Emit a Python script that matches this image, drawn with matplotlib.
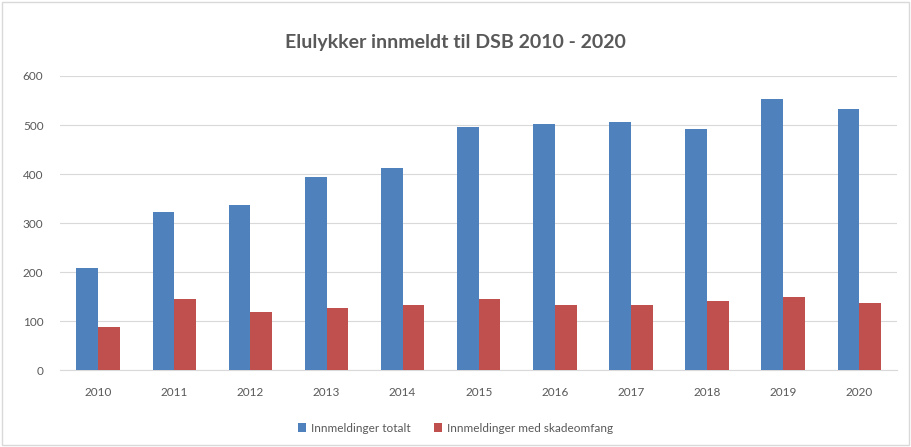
import numpy as np
import matplotlib
matplotlib.use("Agg")
import matplotlib.pyplot as plt
from matplotlib.patches import Rectangle

plt.rcParams['font.family'] = ['Lato', 'DejaVu Sans']

years = ['2010', '2011', '2012', '2013', '2014', '2015', '2016', '2017', '2018', '2019', '2020']
totalt = [208, 322, 337, 394, 412, 495, 503, 507, 492, 554, 532]
skade = [87, 146, 119, 126, 133, 146, 133, 133, 141, 150, 137]

blue = '#4F81BD'
red = '#C0504D'
grey = '#595959'

fig = plt.figure(figsize=(9.11, 4.47), dpi=100)
ax = fig.add_axes([0.066, 0.172, 0.919, 0.658])

x = np.arange(len(years))
w = 0.285
ax.bar(x - w/2, totalt, w, color=blue, label='Innmeldinger totalt', zorder=3)
ax.bar(x + w/2, skade, w, color=red, label='Innmeldinger med skadeomfang', zorder=3)

ax.set_xlim(-0.5, len(years) - 0.5)
ax.set_ylim(0, 600)
ax.set_yticks(range(0, 601, 100))
ax.set_xticks(x)
ax.set_xticklabels(years)
ax.grid(axis='y', color='#D9D9D9', linewidth=0.8, zorder=0)
for s in ['top', 'right', 'left']:
    ax.spines[s].set_visible(False)
ax.spines['bottom'].set_color('#D9D9D9')
ax.tick_params(axis='both', length=0, labelsize=8.5, colors=grey)
ax.tick_params(axis='x', pad=12)
ax.tick_params(axis='y', pad=12)

fig.text(0.5, 0.905, 'Elulykker innmeldt til DSB 2010 - 2020', ha='center', va='center',
         fontsize=14, color=grey, fontweight='bold')

fig.legend(loc='center', bbox_to_anchor=(0.5, 0.042), ncol=2, frameon=False,
           fontsize=8.5, handlelength=0.7, handleheight=0.7, columnspacing=2.0,
           handletextpad=0.4, labelcolor=grey)

fig.patches.append(Rectangle((0.002, 0.004), 0.996, 0.992, transform=fig.transFigure,
                             fill=False, edgecolor='#D9D9D9', linewidth=1))

fig.savefig('out.png', dpi=100)
